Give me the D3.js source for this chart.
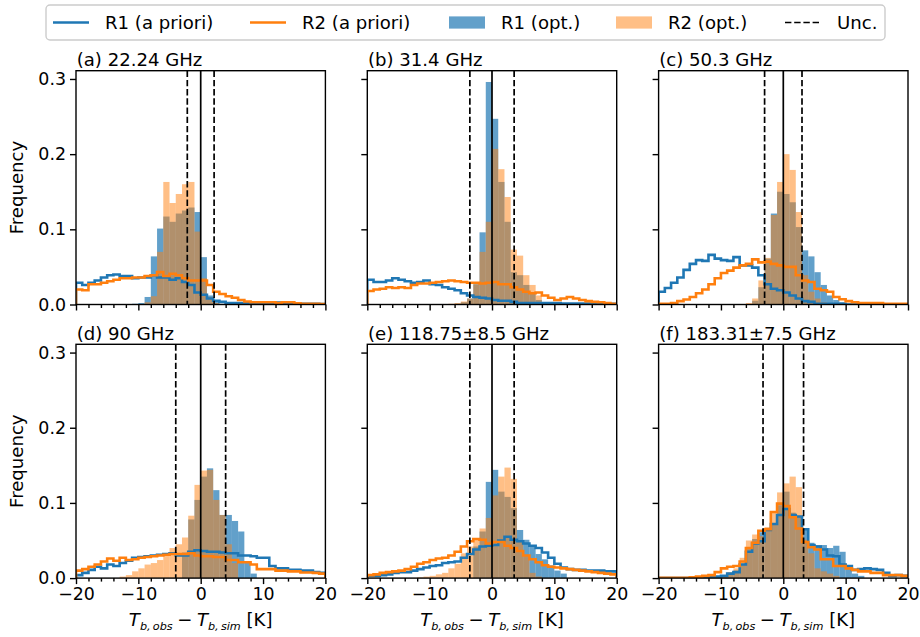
<!DOCTYPE html>
<html>
<head>
<meta charset="utf-8">
<script src="https://cdn.jsdelivr.net/npm/d3@7"></script>
<style>
    body { margin: 0; background: #fff; }
    svg { display: block; }
    text { font-family: "DejaVu Sans", sans-serif; }
</style>
</head>
<body>
<div id="chart"></div>
<script>
// Bins are 1 K wide, from -20 K to 20 K.
var binEdges = d3.range(-20, 21, 1);
var xTicks = [-20, -10, 0, 10, 20];
var xMinorTicks = [-18, -16, -14, -12, -8, -6, -4, -2, 2, 4, 6, 8, 12, 14, 16, 18];
var yTicks = [0, 0.1, 0.2, 0.3];
var panelTitles = ['(a) 22.24 GHz', '(b) 31.4 GHz', '(c) 50.3 GHz',
    '(d) 90 GHz', '(e) 118.75\u00b18.5 GHz', '(f) 183.31\u00b17.5 GHz'];
var uncertainty = [2.15, 3.55, 3.0, 4.0, 3.55, 3.25];
var legendLabels = ['R1 (a priori)', 'R2 (a priori)', 'R1 (opt.)', 'R2 (opt.)', 'Unc.'];

// (a) 22.24 GHz
var a_r1Prior = [0.029,0.026,0.029,0.032,0.036,0.039,0.040,0.038,0.038,0.035,
    0.036,0.036,0.039,0.036,0.036,0.033,0.035,0.030,0.026,0.016,
    0.013,0.008,0.005,0.0035,0.002,0.002,0.002,0.002,0.002,0.002,
    0.002,0.0025,0.0025,0.002,0.002,0.0015,0.001,0.001,0.001,0.0005];
var a_r2Prior = [0.020,0.019,0.027,0.027,0.029,0.031,0.033,0.035,0.035,0.036,
    0.036,0.038,0.039,0.043,0.038,0.041,0.039,0.035,0.032,0.032,
    0.032,0.026,0.017,0.014,0.011,0.009,0.006,0.004,0.003,0.003,
    0.003,0.003,0.002,0.003,0.003,0.0015,0.001,0.001,0.001,0.0005];
var a_r1Opt = [0,0,0,0,0,0,0,0,0,0.001,
    0.002,0.010,0.064,0.101,0.117,0.110,0.121,0.125,0.129,0.123,
    0.063,0.012,0.004,0,0,0,0,0,0,0,
    0,0,0,0,0,0,0,0,0,0];
var a_r2Opt = [0,0,0,0,0,0,0,0,0,0,
    0,0.003,0.011,0.070,0.163,0.135,0.147,0.160,0.163,0.097,
    0.035,0.010,0.002,0,0,0,0,0,0,0,
    0,0,0,0,0,0,0,0,0,0];

// (b) 31.4 GHz
var b_r1Prior = [0.033,0.030,0.030,0.032,0.035,0.033,0.031,0.029,0.030,0.032,
    0.027,0.026,0.023,0.021,0.019,0.015,0.012,0.010,0.009,0.008,
    0.006,0.005,0.005,0.0035,0.002,0.002,0.002,0.002,0.0018,0.0018,
    0.0018,0.0013,0.0013,0.0013,0.0013,0.0013,0.0013,0.0013,0.001,0.001];
var b_r2Prior = [0.018,0.020,0.021,0.023,0.022,0.023,0.022,0.026,0.028,0.028,
    0.029,0.030,0.031,0.032,0.031,0.030,0.029,0.029,0.028,0.029,
    0.030,0.027,0.027,0.023,0.020,0.017,0.015,0.016,0.012,0.009,
    0.006,0.008,0.010,0.008,0.006,0.0045,0.0035,0.003,0.002,0.001];
var b_r1Opt = [0,0,0,0,0,0,0,0,0,0,
    0,0,0,0,0.001,0.003,0.008,0.027,0.096,0.296,
    0.247,0.163,0.110,0.043,0.039,0.026,0.015,0.006,0.002,0,
    0,0,0,0,0,0,0,0,0,0];
var b_r2Opt = [0,0,0,0,0,0,0,0,0,0,
    0,0,0,0.001,0.002,0.004,0.008,0.027,0.070,0.110,
    0.207,0.180,0.143,0.073,0.065,0.039,0.026,0.012,0.003,0,
    0,0,0,0,0,0,0,0,0,0];

// (c) 50.3 GHz
var c_r1Prior = [0.017,0.022,0.029,0.036,0.046,0.054,0.059,0.058,0.066,0.061,
    0.059,0.058,0.063,0.052,0.052,0.049,0.039,0.027,0.021,0.019,
    0.016,0.012,0.008,0.0045,0.0035,0.001,0.001,0.001,0.001,0.001,
    0,0,0,0,0,0,0,0,0,0];
var c_r2Prior = [0.001,0.001,0.002,0.0045,0.0066,0.010,0.015,0.020,0.027,0.035,
    0.042,0.045,0.049,0.052,0.054,0.060,0.056,0.057,0.054,0.052,
    0.050,0.050,0.039,0.032,0.030,0.021,0.019,0.017,0.010,0.007,
    0.0045,0.003,0.002,0.002,0.002,0.002,0.001,0.001,0.001,0.001];
var c_r1Opt = [0,0,0,0,0,0,0,0,0,0,
    0,0,0,0,0,0.005,0.023,0.061,0.121,0.150,
    0.147,0.136,0.103,0.072,0.064,0.043,0.026,0.012,0.006,0.003,
    0.001,0,0,0,0,0,0,0,0,0];
var c_r2Opt = [0,0,0,0,0,0,0,0,0,0,
    0,0,0,0,0.002,0.008,0.032,0.062,0.119,0.163,
    0.200,0.179,0.123,0.039,0.017,0.008,0.003,0,0,0,
    0,0,0,0,0,0,0,0,0,0];

// (d) 90 GHz
var d_r1Prior = [0.004,0.007,0.011,0.015,0.013,0.018,0.016,0.020,0.023,0.027,
    0.028,0.029,0.030,0.031,0.032,0.033,0.030,0.030,0.035,0.037,
    0.036,0.035,0.035,0.034,0.033,0.033,0.030,0.030,0.029,0.027,
    0.027,0.016,0.013,0.013,0.011,0.011,0.010,0.010,0.008,0.007];
var d_r2Prior = [0.010,0.012,0.015,0.018,0.022,0.026,0.023,0.027,0.024,0.025,
    0.027,0.028,0.029,0.030,0.031,0.032,0.032,0.032,0.033,0.030,
    0.029,0.029,0.028,0.028,0.024,0.024,0.021,0.021,0.018,0.012,
    0.012,0.012,0.010,0.010,0.009,0.009,0.0075,0.0075,0.007,0.006];
var d_r1Opt = [0,0,0,0,0,0,0,0,0,0,
    0,0,0,0,0,0,0,0.034,0.078,0.104,
    0.135,0.146,0.117,0.084,0.084,0.076,0.062,0.022,0.006,0,
    0,0,0,0,0,0,0,0,0,0];
var d_r2Opt = [0,0,0,0,0,0,0,0.002,0.004,0.009,
    0.013,0.018,0.020,0.024,0.033,0.040,0.045,0.054,0.083,0.124,
    0.143,0.144,0.104,0.084,0.045,0.020,0,0,0,0,
    0,0,0,0,0,0,0,0,0,0];

// (e) 118.75±8.5 GHz
var e_r1Prior = [0.003,0.003,0.004,0.005,0.007,0.008,0.008,0.010,0.012,0.014,
    0.016,0.017,0.020,0.021,0.022,0.027,0.032,0.038,0.042,0.043,
    0.044,0.050,0.055,0.051,0.049,0.046,0.043,0.040,0.034,0.027,
    0.019,0.014,0.012,0.011,0.011,0.010,0.010,0.010,0.009,0.009];
var e_r2Prior = [0.004,0.005,0.007,0.008,0.009,0.010,0.012,0.015,0.019,0.021,
    0.024,0.026,0.027,0.030,0.035,0.042,0.049,0.052,0.051,0.046,
    0.048,0.048,0.043,0.040,0.036,0.030,0.025,0.021,0.017,0.015,
    0.014,0.013,0.012,0.011,0.010,0.009,0.008,0.007,0.006,0.005];
var e_r1Opt = [0,0,0,0,0,0,0,0,0,0,
    0,0,0,0,0,0,0,0.042,0.062,0.128,
    0.144,0.115,0.108,0.093,0.064,0.051,0.042,0.032,0.025,0.017,
    0.010,0.006,0,0,0,0,0,0,0,0];
var e_r2Opt = [0,0,0,0,0,0,0,0,0.001,0.002,
    0.003,0.005,0.007,0.013,0.019,0.033,0.042,0.051,0.066,0.080,
    0.110,0.135,0.147,0.132,0.048,0.029,0.007,0.002,0,0,
    0,0,0,0,0,0,0,0,0,0];

// (f) 183.31±7.5 GHz
var f_r1Prior = [0,0,0,0,0,0,0.001,0.001,0.002,0.002,
    0.003,0.006,0.008,0.018,0.035,0.046,0.049,0.064,0.072,0.084,
    0.092,0.084,0.082,0.065,0.044,0.042,0.038,0.030,0.029,0.018,
    0.016,0.011,0.012,0.013,0.012,0.011,0.007,0.003,0.004,0.003];
var f_r2Prior = [0.0005,0.0005,0.0005,0.0005,0.0005,0.001,0.002,0.003,0.004,0.008,
    0.013,0.015,0.016,0.022,0.040,0.047,0.063,0.065,0.088,0.099,
    0.096,0.081,0.066,0.048,0.041,0.038,0.025,0.025,0.016,0.016,
    0.013,0.011,0.009,0.009,0.007,0.007,0.004,0.004,0.004,0.003];
var f_r1Opt = [0,0,0,0,0,0,0,0,0,0,
    0.003,0.006,0.010,0.018,0.040,0.052,0.061,0.064,0.072,0.097,
    0.115,0.087,0.082,0.064,0.047,0.044,0.044,0.040,0.043,0.035,
    0.013,0.006,0.003,0,0,0,0,0,0,0];
var f_r2Opt = [0,0,0,0,0,0,0,0,0.001,0.002,
    0.004,0.008,0.013,0.027,0.050,0.058,0.056,0.068,0.089,0.114,
    0.126,0.135,0.121,0.051,0.033,0.013,0.009,0.006,0.003,0,
    0,0,0,0,0,0,0,0,0,0];

var panels = [
    {r1Prior: a_r1Prior, r2Prior: a_r2Prior, r1Opt: a_r1Opt, r2Opt: a_r2Opt},
    {r1Prior: b_r1Prior, r2Prior: b_r2Prior, r1Opt: b_r1Opt, r2Opt: b_r2Opt},
    {r1Prior: c_r1Prior, r2Prior: c_r2Prior, r1Opt: c_r1Opt, r2Opt: c_r2Opt},
    {r1Prior: d_r1Prior, r2Prior: d_r2Prior, r1Opt: d_r1Opt, r2Opt: d_r2Opt},
    {r1Prior: e_r1Prior, r2Prior: e_r2Prior, r1Opt: e_r1Opt, r2Opt: e_r2Opt},
    {r1Prior: f_r1Prior, r2Prior: f_r2Prior, r1Opt: f_r1Opt, r2Opt: f_r2Opt}
];

var width = 920;
var height = 637;
var blue = '#1f77b4';
var orange = '#ff7f0e';
var tickFont = 17.4;
var labelFont = 18.1;

var colLeft = [76, 367.3, 658.6];
var rowTop = [70.7, 344.3];
var panelW = 249.4;
var panelH = 233.8;

var svg = d3.select('#chart')
    .append('svg')
    .attr('width', width)
    .attr('height', height)
    .style('font-size', labelFont + 'px');

panels.forEach(function (p, k) {
    var col = k % 3;
    var row = Math.floor(k / 3);
    drawPanel(p, k, colLeft[col], rowTop[row], col === 0, row === 1);
});

drawLegend();

function stepPath(x, y, values) {
    // matplotlib-like 'step' outline, closing to zero at both ends
    var pts = [[x(binEdges[0]), y(0)]];
    values.forEach(function (v, i) {
        pts.push([x(binEdges[i]), y(v)]);
        pts.push([x(binEdges[i + 1]), y(v)]);
    });
    pts.push([x(binEdges[binEdges.length - 1]), y(0)]);
    return d3.line()(pts);
}

function drawPanel(p, k, left, top, showYLabels, showXLabels) {
    var x = d3.scaleLinear().domain([-20, 20]).range([0, panelW]);
    var y = d3.scaleLinear().domain([0, 0.311]).range([panelH, 0]);

    var g = svg.append('g').attr('transform', 'translate(' + left + ',' + top + ')');

    g.append('clipPath').attr('id', 'clip' + k)
        .append('rect').attr('width', panelW).attr('height', panelH);
    var plot = g.append('g').attr('clip-path', 'url(#clip' + k + ')');

    // optimised histograms, filled
    [[p.r1Opt, blue, 0.7], [p.r2Opt, orange, 0.5]].forEach(function (s) {
        plot.append('g')
            .selectAll('rect')
            .data(s[0].map(function (v, i) { return {x0: binEdges[i], x1: binEdges[i + 1], v: v}; })
                .filter(function (d) { return d.v > 0; }))
            .enter().append('rect')
            .attr('x', function (d) { return x(d.x0); })
            .attr('width', function (d) { return x(d.x1) - x(d.x0); })
            .attr('y', function (d) { return y(d.v); })
            .attr('height', function (d) { return y(0) - y(d.v); })
            .style('fill', s[1])
            .style('fill-opacity', s[2]);
    });

    // a priori histograms, step outline
    [[p.r1Prior, blue], [p.r2Prior, orange]].forEach(function (s) {
        plot.append('path')
            .attr('d', stepPath(x, y, s[0]))
            .style('fill', 'none')
            .style('stroke', s[1])
            .style('stroke-width', '2.6px')
            .style('stroke-linejoin', 'miter');
    });

    // zero line and uncertainty
    plot.append('line')
        .attr('x1', x(0)).attr('x2', x(0))
        .attr('y1', 0).attr('y2', panelH)
        .style('stroke', '#000').style('stroke-width', '1.7px');
    [-uncertainty[k], uncertainty[k]].forEach(function (u) {
        plot.append('line')
            .attr('x1', x(u)).attr('x2', x(u))
            .attr('y1', 0).attr('y2', panelH)
            .style('stroke', '#000').style('stroke-width', '1.7px')
            .style('stroke-dasharray', '6.4,2.8');
    });

    // axes
    var xAxis = g.append('g').attr('transform', 'translate(0,' + panelH + ')')
        .call(d3.axisBottom(x).tickValues(xTicks).tickSize(6).tickPadding(4)
            .tickFormat(showXLabels ? d3.format('d') : ''));
    var xMinor = g.append('g').attr('transform', 'translate(0,' + panelH + ')')
        .call(d3.axisBottom(x).tickValues(xMinorTicks).tickSize(3.5).tickFormat(''));
    var yAxis = g.append('g')
        .call(d3.axisLeft(y).tickValues(yTicks).tickSize(6).tickPadding(4)
            .tickFormat(showYLabels ? d3.format('.1f') : ''));

    [xAxis, xMinor, yAxis].forEach(function (a) {
        a.select('.domain').remove();
        a.selectAll('line').style('stroke', '#000').style('stroke-width', '1.4px');
        a.selectAll('text')
            .style('font-family', '"DejaVu Sans", sans-serif')
            .style('font-size', tickFont + 'px')
            .style('fill', '#000');
    });

    g.append('rect')
        .attr('width', panelW).attr('height', panelH)
        .style('fill', 'none').style('stroke', '#000').style('stroke-width', '1.4px');

    g.append('text')
        .attr('x', 0.7).attr('y', -4.3)
        .text(panelTitles[k]);

    if (showYLabels) {
        g.append('text')
            .attr('transform', 'translate(' + (23 - left) + ',' + (panelH / 2) + ') rotate(-90)')
            .attr('text-anchor', 'middle')
            .text('Frequency');
    }

    if (showXLabels) {
        // T_{b,obs} - T_{b,sim} [K], mathtext style
        var lab = g.append('text')
            .attr('x', panelW / 2).attr('y', panelH + 48)
            .attr('text-anchor', 'middle');
        lab.append('tspan').style('font-style', 'italic').text('T');
        lab.append('tspan').style('font-style', 'italic').style('font-size', '62%')
            .attr('dy', 4).text('b,\u2009obs');
        lab.append('tspan').attr('dy', -4).text('\u2005\u2212\u2005');
        lab.append('tspan').style('font-style', 'italic').text('T');
        lab.append('tspan').style('font-style', 'italic').style('font-size', '62%')
            .attr('dy', 4).text('b,\u2009sim');
        lab.append('tspan').attr('dy', -4).text(' [K]');
    }
}

function drawLegend() {
    var lg = svg.append('g');
    lg.append('rect')
        .attr('x', 46).attr('y', 5).attr('width', 839).attr('height', 35)
        .attr('rx', 4)
        .style('fill', '#fff').style('fill-opacity', 0.8)
        .style('stroke', '#cccccc').style('stroke-width', '1.4px');

    var cy = 22.5;
    var handles = [
        {x: 53, type: 'line', color: blue},
        {x: 250, type: 'line', color: orange},
        {x: 449, type: 'patch', color: blue, alpha: 0.7},
        {x: 616, type: 'patch', color: orange, alpha: 0.5},
        {x: 785, type: 'dash', color: '#000'}
    ];
    handles.forEach(function (h, i) {
        if (h.type === 'patch') {
            lg.append('rect')
                .attr('x', h.x).attr('y', cy - 6.1).attr('width', 36).attr('height', 12.2)
                .style('fill', h.color).style('fill-opacity', h.alpha);
        } else {
            lg.append('line')
                .attr('x1', h.x).attr('x2', h.x + 36)
                .attr('y1', cy).attr('y2', cy)
                .style('stroke', h.color)
                .style('stroke-width', h.type === 'dash' ? '1.7px' : '2.6px')
                .style('stroke-dasharray', h.type === 'dash' ? '6.4,2.8' : null);
        }
        lg.append('text')
            .attr('x', h.x + 52).attr('y', cy + 6.3)
            .text(legendLabels[i]);
    });
}
</script>
</body>
</html>
